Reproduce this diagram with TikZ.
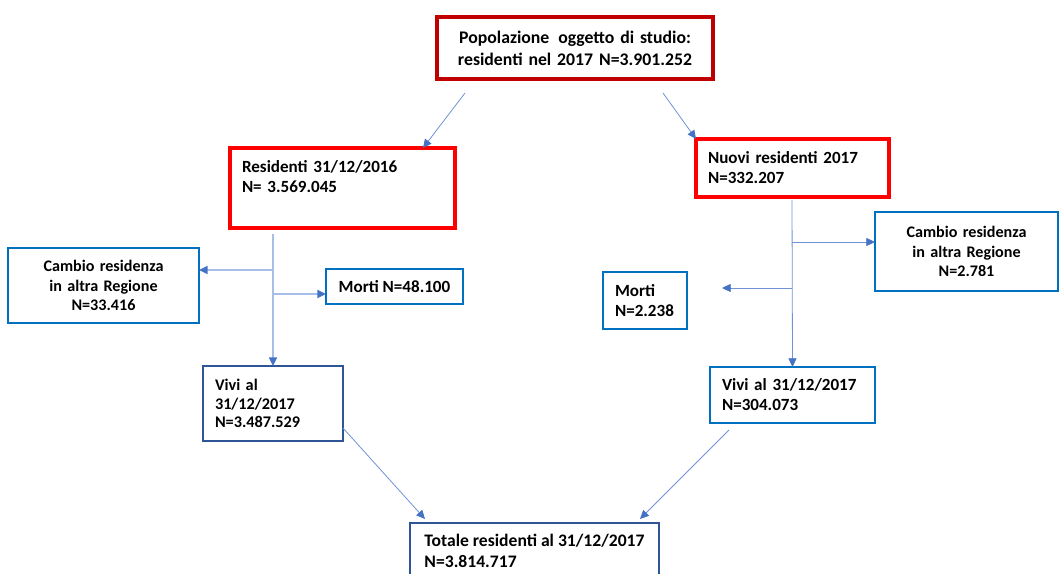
\documentclass[tikz,border=0pt]{standalone}
\usepackage{fontspec}
\setmainfont{Carlito}
\usetikzlibrary{arrows.meta, calc}
\definecolor{popred}{RGB}{192,0,0}
\definecolor{boxred}{RGB}{255,0,0}
\definecolor{boxblue}{RGB}{0,112,192}
\definecolor{boxnavy}{RGB}{47,85,151}
\definecolor{tipblue}{RGB}{68,114,196}
\definecolor{lightline}{RGB}{166,190,232}
\definecolor{midline}{RGB}{112,146,214}

\begin{document}
\begin{tikzpicture}[
    x=0.75pt, y=-0.75pt,
    % Style for the boxes
    box/.style={
        rectangle,
        draw,
        anchor=north west,
        inner xsep=9pt,
        inner ysep=0pt,
        font=\bfseries\fontsize{12.8}{15}\selectfont,
        outer sep=0pt
    },
    redbox/.style={box, draw=boxred, line width=2.6pt, align=left},
    bluebox/.style={box, draw=boxblue, line width=1.4pt, align=center},
    navybox/.style={box, draw=boxnavy, line width=1.4pt, align=left},
    % Style for the connectors
    link/.style={-{Triangle[length=6.5pt, width=6pt, color=tipblue]}, line width=0.6pt, midline},
    lightlink/.style={link, lightline, line width=1.1pt}
]

    % --- Page ---
    \useasboundingbox (0,0) rectangle (1060,574);

    % --- Boxes ---
    \node[box, draw=popred, line width=3pt, align=center, minimum width=207pt, minimum height=46.5pt, text width=189pt,
          font=\bfseries\fontsize{13.3}{16.5}\selectfont] (pop) at (437,17)
        {Popolazione\, oggetto di studio:\\residenti nel 2017 N=3.901.252};

    \node[redbox, minimum width=168.75pt, minimum height=60pt, text width=150.75pt, text depth=32pt] (res16) at (230,148)
        {Residenti 31/12/2016\\N= 3.569.045};
    \node[redbox, minimum width=144.75pt, minimum height=43.5pt, text width=126.75pt] (nuovi) at (696,139)
        {Nuovi residenti 2017\\N=332.207};

    \node[bluebox, minimum width=143.25pt, minimum height=56.25pt, text width=125.25pt,
          font=\bfseries\fontsize{12.1}{14.6}\selectfont] (cambioL) at (8,248)
        {Cambio residenza\\in altra Regione\\N=33.416};
    \node[bluebox, minimum width=102.75pt, minimum height=26.25pt] (mortiL) at (326,269)
        {Morti N=48.100};

    \node[bluebox, minimum width=137.25pt, minimum height=59.25pt, text width=119.25pt,
          font=\bfseries\fontsize{12.1}{14.6}\selectfont] (cambioR) at (875,212)
        {Cambio residenza\\in altra Regione\\N=2.781};
    \node[bluebox, align=left, minimum width=63pt, minimum height=42.75pt, text width=45pt] (mortiR) at (603,272)
        {Morti\\N=2.238};

    \node[navybox, minimum width=105pt, minimum height=56.25pt, text width=87pt,
          font=\bfseries\fontsize{12.2}{13.9}\selectfont] (viviL) at (203,366)
        {Vivi al\\31/12/2017\\N=3.487.529};
    \node[bluebox, align=left, minimum width=123.75pt, minimum height=42pt, text width=105.75pt] (viviR) at (710,367)
        {Vivi al 31/12/2017\\N=304.073};

    \node[navybox, minimum width=186.75pt, minimum height=42pt, inner xsep=8pt,
          font=\bfseries\fontsize{13.2}{15.8}\selectfont] (tot) at (410,523)
        {Totale residenti al 31/12/2017\\N=3.814.717};

    % --- Top split ---
    \draw[link] ($(pop.south west)+(28,14)$) -- ($(res16.north east)+(-32,0)$);
    \draw[link] ($(pop.south east)+(-50,14)$) -- (nuovi.north west);

    % --- Left branch ---
    \coordinate (trunkL) at ($(res16.south west)+(43,6)$);
    \draw[lightlink] (trunkL) -- (viviL.north);
    \draw[lightlink] ($(trunkL)+(0,36)$) coordinate (forkL1) -- (forkL1 -| cambioL.east);
    \draw[lightlink] ($(trunkL)+(0,60)$) coordinate (forkL2) -- (forkL2 -| mortiL.west);

    % --- Right branch ---
    \coordinate (trunkR) at ($(nuovi.south west)+(96,3)$);
    \draw[link] (trunkR) -- (viviR.north);
    \draw[link] ($(trunkR)+(0,42)$) coordinate (forkR1) -- (forkR1 -| cambioR.west);
    \coordinate (stopR) at ($(mortiR.east)+(35,0)$);
    \draw[link] ($(trunkR)+(0,88)$) coordinate (forkR2) -- (forkR2 -| stopR);

    % --- Merge ---
    \draw[link] ($(viviL.south east)+(0,-13)$) -- ($(tot.north west)+(15,-4)$);
    \draw[link] ($(viviR.south west)+(19,7)$) -- ($(tot.north east)+(-19,-4)$);

\end{tikzpicture}
\end{document}
